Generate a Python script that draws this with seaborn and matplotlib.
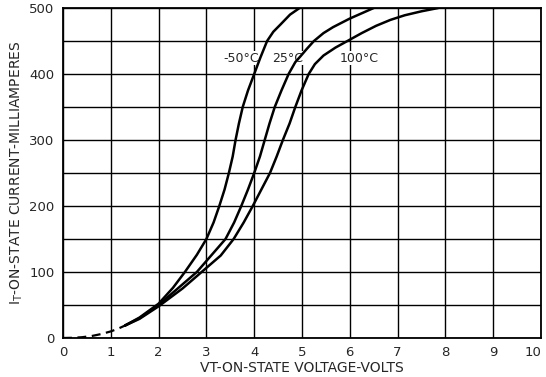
import pandas as pd
import matplotlib.pyplot as plt
import seaborn as sns

# courbes (V en volts, I en mA)
v_low = [0, 0.2, 0.4, 0.6, 0.8, 1.0, 1.15, 1.3]
i_low = [0, 0.3, 1.2, 3, 6, 10, 14, 19]

v_m50 = [1.3, 1.6, 2.0, 2.3, 2.55, 2.8, 3.0, 3.15, 3.27, 3.38, 3.47, 3.55, 3.61,
         3.68, 3.76, 3.87, 4.0, 4.13, 4.27, 4.4, 4.55, 4.75, 4.95]
i_m50 = [19, 31, 52, 76, 100, 126, 150, 175, 200, 225, 250, 275, 300,
         325, 350, 375, 400, 425, 450, 464, 475, 490, 500]

v_25 = [1.3, 1.6, 2.0, 2.4, 2.8, 3.1, 3.4, 3.58, 3.73, 3.87, 4.0, 4.12, 4.22,
        4.32, 4.43, 4.57, 4.72, 4.86, 4.97, 5.1, 5.25, 5.45, 5.65, 6.0, 6.25, 6.5]
i_25 = [19, 30, 50, 75, 100, 125, 150, 175, 200, 225, 250, 275, 300,
        325, 350, 375, 400, 418, 427, 438, 450, 462, 471, 484, 492, 500]

v_100 = [1.3, 1.6, 2.0, 2.5, 2.9, 3.3, 3.57, 3.78, 3.97, 4.15, 4.33, 4.47, 4.6,
         4.74, 4.86, 4.99, 5.14, 5.27, 5.45, 5.7, 5.95, 6.25, 6.55, 6.85, 7.15, 7.5, 7.85]
i_100 = [19, 29, 48, 75, 100, 125, 150, 175, 200, 225, 250, 275, 300,
         325, 350, 375, 400, 415, 428, 440, 450, 462, 473, 482, 489, 495, 500]

labels = ["-50°C", "25°C", "100°C"]
label_pos = [(3.72, 424), (4.7, 424), (6.19, 424)]

x_ticks = list(range(0, 11))
y_ticks = [0, 100, 200, 300, 400, 500]

df = pd.concat([
    pd.DataFrame({"V": v_m50, "I": i_m50, "T": labels[0]}),
    pd.DataFrame({"V": v_25, "I": i_25, "T": labels[1]}),
    pd.DataFrame({"V": v_100, "I": i_100, "T": labels[2]}),
])

sns.set_style("white")
plt.rcParams["font.family"] = ["DejaVu Sans"]

fig = plt.figure(figsize=(5.46, 3.77), dpi=100)
ax = fig.add_axes([63 / 546, 1 - 338 / 377, 478 / 546, 330 / 377])

sns.lineplot(data=df, x="V", y="I", hue="T", palette=["black"] * 3,
             linewidth=1.8, legend=False, sort=False, ax=ax, zorder=3)
sns.lineplot(x=v_low, y=i_low, color="black", linewidth=1.6,
             linestyle=(0, (4, 2.5)), ax=ax, zorder=3)

# texte sous les courbes mais au-dessus de la grille
for txt, (x, y) in zip(labels, label_pos):
    ax.text(x, y, txt, ha="center", va="center", fontsize=9, zorder=2.5,
            bbox=dict(facecolor="white", edgecolor="none", pad=0.3))

ax.set_xlim(0, 10)
ax.set_ylim(0, 500)
ax.set_xticks(x_ticks)
ax.set_yticks(y_ticks)
ax.set_yticks(range(50, 500, 100), minor=True)
ax.grid(True, which="both", color="black", linewidth=1.0)
ax.tick_params(which="both", length=0, labelsize=9.5, pad=6)
ax.get_xticklabels()[-1].set_horizontalalignment("right")
for s in ax.spines.values():
    s.set_color("black")
    s.set_linewidth(1.3)

ax.set_xlabel("VT-ON-STATE VOLTAGE-VOLTS", fontsize=10, labelpad=1)
ax.set_ylabel(r"I$_{\rm T}$-ON-STATE CURRENT-MILLIAMPERES", fontsize=10, labelpad=3)

fig.savefig("out.png", dpi=100)
